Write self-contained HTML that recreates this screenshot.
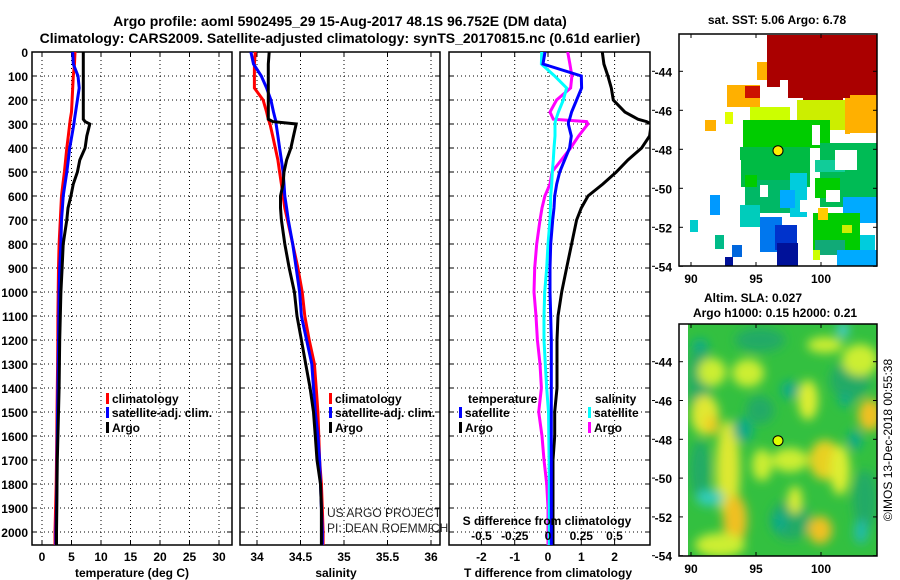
<!DOCTYPE html>
<html><head><meta charset="utf-8">
<style>
body{margin:0;background:#fff;}
svg{display:block;font-family:"Liberation Sans",sans-serif;}
.b{font-weight:bold;}
</style></head>
<body>
<svg id="chart" width="900" height="580" viewBox="0 0 900 580" xmlns="http://www.w3.org/2000/svg">
<defs>
<filter id="blur" x="-20%" y="-20%" width="140%" height="140%"><feGaussianBlur stdDeviation="5"/></filter>
<clipPath id="c1"><rect x="32" y="52" width="200" height="493"/></clipPath>
<clipPath id="c2"><rect x="240" y="52" width="200" height="493"/></clipPath>
<clipPath id="c3"><rect x="449" y="52" width="201" height="493"/></clipPath>
<clipPath id="cm2"><rect x="688" y="324" width="189" height="232"/></clipPath>
</defs>
<text x="340" y="26" text-anchor="middle" font-size="14" class="b">Argo profile: aoml 5902495_29 15-Aug-2017 48.1S 96.752E (DM data)</text>
<text x="340" y="43" text-anchor="middle" font-size="14" class="b">Climatology: CARS2009. Satellite-adjusted climatology: synTS_20170815.nc (0.61d earlier)</text>
<g id="g"></g>
</svg>
<script>
// depth levels (m)
const depthLevels = [0,50,100,150,200,250,280,290,300,350,400,450,500,550,600,650,700,800,900,1000,1100,1200,1300,1400,1500,1600,1700,1800,1900,2000,2054];
// temperature (deg C)
const tempArgo = [7.0,7.0,7.0,7.0,7.0,7.0,7.0,7.3,8.1,7.6,7.3,6.4,6.0,5.3,4.9,4.4,4.2,3.6,3.4,3.2,3.1,3.0,2.95,2.9,2.8,2.7,2.6,2.55,2.5,2.45,2.45];
const tempClim = [5.6,5.5,5.3,5.2,5.1,5.0,4.8,4.75,4.7,4.45,4.2,4.0,3.8,3.55,3.3,3.2,3.1,2.9,2.8,2.75,2.7,2.68,2.65,2.6,2.55,2.5,2.45,2.4,2.3,2.2,2.2];
const tempSat = [5.2,5.3,6.1,6.3,6.0,5.7,5.5,5.45,5.4,5.05,4.7,4.45,4.2,3.9,3.6,3.45,3.3,3.2,3.0,2.9,2.85,2.8,2.75,2.7,2.65,2.6,2.55,2.5,2.45,2.35,2.35];
// salinity (psu)
const salArgo = [34.14,34.13,34.13,34.13,34.13,34.13,34.13,34.18,34.45,34.42,34.39,34.34,34.31,34.30,34.27,34.27,34.28,34.32,34.37,34.43,34.46,34.51,34.56,34.61,34.65,34.67,34.69,34.73,34.74,34.74,34.74];
const salClim = [33.98,33.97,33.97,33.97,34.07,34.11,34.13,34.14,34.15,34.18,34.21,34.24,34.26,34.28,34.30,34.32,34.35,34.41,34.47,34.52,34.55,34.60,34.66,34.68,34.70,34.71,34.72,34.74,34.75,34.76,34.76];
const salSat = [33.93,33.96,34.05,34.11,34.16,34.19,34.21,34.22,34.22,34.24,34.26,34.28,34.30,34.31,34.32,34.34,34.36,34.41,34.45,34.49,34.51,34.57,34.63,34.65,34.67,34.70,34.72,34.73,34.74,34.75,34.75];
// differences from climatology
const dTArgo = [1.63,1.68,1.8,1.9,1.96,2.31,2.7,2.96,3.1,3.05,2.81,2.4,2.05,1.65,1.2,1.0,0.86,0.71,0.56,0.41,0.3,0.27,0.27,0.27,0.2,0.2,0.15,0.15,0.15,0.15,0.15];
const dTSat = [-0.09,-0.15,1.0,1.01,0.86,0.71,0.65,0.62,0.61,0.7,0.65,0.5,0.35,0.26,0.2,0.18,0.14,0.08,0.06,0.06,0.08,0.1,0.1,0.1,0.1,0.1,0.1,0.1,0.1,0.1,0.1];
const dSSat = [-0.047,-0.05,0.05,0.14,0.115,0.078,0.06,0.055,0.053,0.053,0.045,0.04,0.032,0.028,0.02,0.018,0.015,0.0,-0.01,-0.025,-0.03,-0.03,-0.02,-0.01,0.004,0.006,0.008,0.01,0.01,0.01,0.01];
const dSArgo = [0.148,0.165,0.18,0.17,0.065,0.015,0.04,0.29,0.30,0.23,0.17,0.1,0.03,0.015,-0.023,-0.045,-0.06,-0.085,-0.1,-0.105,-0.09,-0.08,-0.06,-0.05,-0.07,-0.045,-0.03,-0.01,0.0,0.0,0.0];
// tick labels
const depthTicks = [0,100,200,300,400,500,600,700,800,900,1000,1100,1200,1300,1400,1500,1600,1700,1800,1900,2000];
const tempTicks = [0,5,10,15,20,25,30];
const salTicks = [34,34.5,35,35.5,36];
const dTTicks = [-2,-1,0,1,2];
const dSTicks = [-0.5,-0.25,0,0.25,0.5];
const dSTickLabels = ["-0.5","-0.25","0","0.25","0.5"];
const latTicks = [-44,-46,-48,-50,-52,-54];
const lonTicks = [90,95,100];

const NS="http://www.w3.org/2000/svg";
const g=document.getElementById('g');
function el(tag,attrs,parent,txt){const e=document.createElementNS(NS,tag);for(const k in attrs)e.setAttribute(k,attrs[k]);if(txt!==undefined)e.textContent=txt;(parent||g).appendChild(e);return e;}
const yD=d=>52+0.24*d;
const xT=t=>42+5.9*t;
const xS=s=>257+87*(s-34);
const xDT=v=>548+33.3*v;
const xDS=v=>548+133*v;
const yTop=52,yBot=545;

function panel(x0,x1,name,xfn,ticks){
  const p=el('g',{});
  
  
  ticks.forEach(t=>{const x=xfn(t);
    const l=el('line',{x1:x,x2:x,y1:yTop,y2:yBot,stroke:'#000','stroke-width':1,'stroke-dasharray':'1,3'},p);
    
    
    el('line',{x1:x,x2:x,y1:yBot,y2:yBot-5,stroke:'#000'},p);
    el('line',{x1:x,x2:x,y1:yTop,y2:yTop+5,stroke:'#000'},p);
  });
  depthTicks.forEach(d=>{const y=yD(d);
    const l=el('line',{x1:x0,x2:x1,y1:y,y2:y,stroke:'#000','stroke-width':1,'stroke-dasharray':'1,3'},p);
    
    
    el('line',{x1:x0,x2:x0+5,y1:y,y2:y,stroke:'#000'},p);
    el('line',{x1:x1,x2:x1-5,y1:y,y2:y,stroke:'#000'},p);
  });
  const r=el('rect',{x:x0,y:yTop,width:x1-x0,height:yBot-yTop,fill:'none',stroke:'#000','stroke-width':1.5},p);
  
  
  return p;
}
function line(vals,xfn,color,name,clip){
  const pts=vals.map((v,i)=>xfn(v).toFixed(1)+','+yD(depthLevels[i]).toFixed(1)).join(' ');
  const l=el('polyline',{points:pts,fill:'none',stroke:color,'stroke-width':3,'clip-path':'url(#'+clip+')'});
  
  
}
function xlabels(ticks,xfn,y,labels,name){
  ticks.forEach((t,i)=>{const e=el('text',{x:xfn(t),y:y,'text-anchor':'middle','font-size':12,'font-weight':'bold'},g,labels?labels[i]:String(t));
    
    });
}
function legend(x,y,color,text,name){
  el('rect',{x:x,y:y-10,width:3,height:11,fill:color});
  const t=el('text',{x:x+6,y:y,'font-size':12,'font-weight':'bold'},g,text);
  
  
}

panel(32,232,'temperature-panel',xT,tempTicks);
panel(240,440,'salinity-panel',xS,salTicks);
panel(449,650,'difference-panel',xDT,dTTicks);

depthTicks.forEach(d=>{const e=el('text',{x:28,y:yD(d)+5,'text-anchor':'end','font-size':12,'font-weight':'bold'},g,String(d));
  
  });

line(tempClim,xT,'#ff0000','temp-climatology-line','c1');
line(tempSat,xT,'#0000ff','temp-satellite-line','c1');
line(tempArgo,xT,'#000000','temp-argo-line','c1');
line(salClim,xS,'#ff0000','sal-climatology-line','c2');
line(salSat,xS,'#0000ff','sal-satellite-line','c2');
line(salArgo,xS,'#000000','sal-argo-line','c2');
line(dTArgo,xDT,'#000000','dT-argo-line','c3');
line(dSArgo,xDS,'#ff00ff','dS-argo-line','c3');
line(dSSat,xDS,'#00ffff','dS-satellite-line','c3');
line(dTSat,xDT,'#0000ff','dT-satellite-line','c3');

xlabels(tempTicks,xT,561,null,'temp-tick-label');
xlabels(salTicks,xS,561,null,'sal-tick-label');
xlabels(dTTicks,xDT,561,null,'dT-tick-label');
xlabels(dSTicks,xDS,540,dSTickLabels,'dS-tick-label');

[['temperature (deg C)',132,'temp-axis-title'],['salinity',336,'sal-axis-title'],['T difference from climatology',548,'dT-axis-title']].forEach(a=>{
  const e=el('text',{x:a[1],y:577,'text-anchor':'middle','font-size':12,'font-weight':'bold'},g,a[0]);
  
  });
{const e=el('text',{x:547,y:525,'text-anchor':'middle','font-size':12,'font-weight':'bold'},g,'S difference from climatology');

}

legend(106,403,'#ff0000','climatology','legend-climatology');
legend(106,417,'#0000ff','satellite-adj. clim.','legend-satellite-adj');
legend(106,432,'#000000','Argo','legend-argo');
legend(329,403,'#ff0000','climatology','legend-sal-climatology');
legend(329,417,'#0000ff','satellite-adj. clim.','legend-sal-satellite-adj');
legend(329,432,'#000000','Argo','legend-sal-argo');
{const e=el('text',{x:468,y:403,'font-size':12,'font-weight':'bold'},g,'temperature');


const f=el('text',{x:595,y:403,'font-size':12,'font-weight':'bold'},g,'salinity');

}
legend(459,417,'#0000ff','satellite','legend-dT-satellite');
legend(459,432,'#000000','Argo','legend-dT-argo');
legend(588,417,'#00ffff','satellite','legend-dS-satellite');
legend(588,432,'#ff00ff','Argo','legend-dS-argo');
{const e=el('text',{x:327,y:517,'font-size':12,fill:'#222'},g,'US ARGO PROJECT');


const f=el('text',{x:327,y:532,'font-size':12,fill:'#222'},g,'PI: DEAN ROEMMICH');

}

// ---- maps ----
const lonX=l=>691+13*(l-90);
function mapAxes(top,bot,latY,name){
  const r=el('rect',{x:679,y:top,width:198,height:bot-top,fill:'none',stroke:'#000','stroke-width':1.5});
  
  
  latTicks.forEach(l=>{const y=latY(l);
    el('line',{x1:679,x2:683,y1:y,y2:y,stroke:'#000'});
    el('line',{x1:877,x2:873,y1:y,y2:y,stroke:'#000'});
    el('line',{x1:652,x2:655,y1:y,y2:y,stroke:'#000'});
    const t=el('text',{x:672,y:y+5,'text-anchor':'end','font-size':12,'font-weight':'bold'},g,String(l));
    
    });
  lonTicks.forEach(l=>{const x=lonX(l);
    el('line',{x1:x,x2:x,y1:bot,y2:bot-4,stroke:'#000'});
    el('line',{x1:x,x2:x,y1:top,y2:top+4,stroke:'#000'});
    const t=el('text',{x:x,y:bot+17,'text-anchor':'middle','font-size':12,'font-weight':'bold'},g,String(l));
    
    });
}
// SST map blocks
const sstBlocks=[
 ['#ffb000',727,85,33,22],['#ffb000',757,62,25,18],['#ffb000',705,120,11,11],['#ffb000',845,92,32,42],['#ffb000',770,57,20,25],
 ['#aa0000',767,35,110,52],['#aa0000',780,60,70,38],['#aa0000',803,85,40,28],['#aa0000',850,85,27,10],['#cc1100',745,86,15,12],
 ['#ccff00',750,107,40,20],['#ccee00',797,100,48,30],['#e0ff00',725,112,8,12],
 ['#00cc00',743,120,87,28],['#00c000',771,150,35,25],['#00bb44',740,147,70,40],['#00b866',745,180,55,33],['#00cc00',745,175,12,12],
 ['#00bb55',820,143,57,64],['#00cc00',815,178,25,20],['#11cc99',815,160,30,12],
 ['#00ccdd',790,173,17,44],['#00aaff',843,197,34,26],['#00aaff',780,190,15,18],['#0099ff',710,195,10,20],['#00cccc',690,220,8,12],['#00bb88',715,235,9,14],['#00ccbb',740,205,20,22],['#00ccbb',760,225,10,12],
 ['#0077ee',760,217,22,35],['#0033cc',775,225,22,25],['#001199',777,243,21,23],['#0066dd',732,245,10,12],['#001199',725,257,8,9],
 ['#00cc00',813,213,47,40],['#11aa77',815,240,30,15],['#ffcc00',818,208,10,12],['#ccee00',842,225,10,8],['#ccff00',813,250,7,10],
 ['#00aaff',837,250,40,16],['#00ccdd',860,235,15,15],
 ['#ffffff',780,80,8,18],['#ffffff',812,125,8,20],['#ffffff',835,150,22,20],['#ffffff',760,185,8,12],['#ffffff',800,200,12,12],['#ffffff',735,160,6,30],['#ffffff',850,133,27,10],['#ffffff',826,190,14,12]
];
sstBlocks.forEach(b=>{const r=el('rect',{x:b[1],y:b[2],width:b[3],height:b[4],fill:b[0]});
  
  });
mapAxes(34,266,l=>71.3+19.5*(-44-l),'sst-map-frame');
{const c=el('circle',{cx:778,cy:150.7,r:5,fill:'#ffee00',stroke:'#000','stroke-width':1});

}
{const t=el('text',{x:777,y:24,'text-anchor':'middle','font-size':12,'font-weight':'bold'},g,'sat. SST: 5.06 Argo: 6.78');

}

// SLA map
const m2=el('g',{'clip-path':'url(#cm2)'});


el('rect',{x:688,y:324,width:189,height:232,fill:'#33c040'},m2);
const blobs=el('g',{filter:'url(#blur)'},m2);
const slaBlobs=[
 ['#22aa66',700,380,12,40],['#22aa66',760,340,25,12],['#22aa66',850,380,20,20],['#22aa66',700,470,10,30],['#22aa66',790,520,20,20],['#22aa66',865,500,12,30],['#22aa66',760,410,14,14],
 ['#ccee33',712,372,14,14],['#ccee33',748,373,16,14],['#e0e833',705,415,14,20],['#f0cc20',712,425,7,10],['#dde833',728,470,12,50],['#f0c020',735,520,12,25],
 ['#ccee33',762,465,10,16],['#ccee33',790,460,18,12],['#ddee33',808,400,10,20],['#e8d020',825,460,16,20],['#ddee33',840,470,10,25],
 ['#f0c020',820,530,12,14],['#ddee33',795,500,7,14],['#f0c020',870,415,12,16],['#ccee33',720,545,25,12],['#ccee33',825,345,18,8],['#ccee33',860,360,18,16],
 ['#11aa88',743,430,10,12],['#11aa88',790,390,9,9],['#11aa88',855,440,7,10],['#33ccbb',710,498,14,8],['#11aa88',700,345,8,6],['#11aa88',780,522,7,10],['#44cccc',843,330,6,8],['#22bbaa',861,532,7,12],['#11aa88',845,400,6,7]
];
slaBlobs.forEach(b=>{const e=el('ellipse',{cx:b[1],cy:b[2],rx:b[3],ry:b[4],fill:b[0]},blobs);
  
  });
mapAxes(324,556,l=>361.7+19.4*(-44-l),'sla-map-frame');
{const c=el('circle',{cx:778,cy:440.7,r:5,fill:'#ddff00',stroke:'#000','stroke-width':1});

}
{const t=el('text',{x:753,y:302,'text-anchor':'middle','font-size':12,'font-weight':'bold'},g,'Altim. SLA: 0.027');


const u=el('text',{x:775,y:317,'text-anchor':'middle','font-size':12,'font-weight':'bold'},g,'Argo h1000: 0.15 h2000: 0.21');


const v=el('text',{x:892,y:440,'text-anchor':'middle','font-size':12,transform:'rotate(-90 892 440)'},g,'©IMOS 13-Dec-2018 00:55:38');

}
</script>
</body></html>
